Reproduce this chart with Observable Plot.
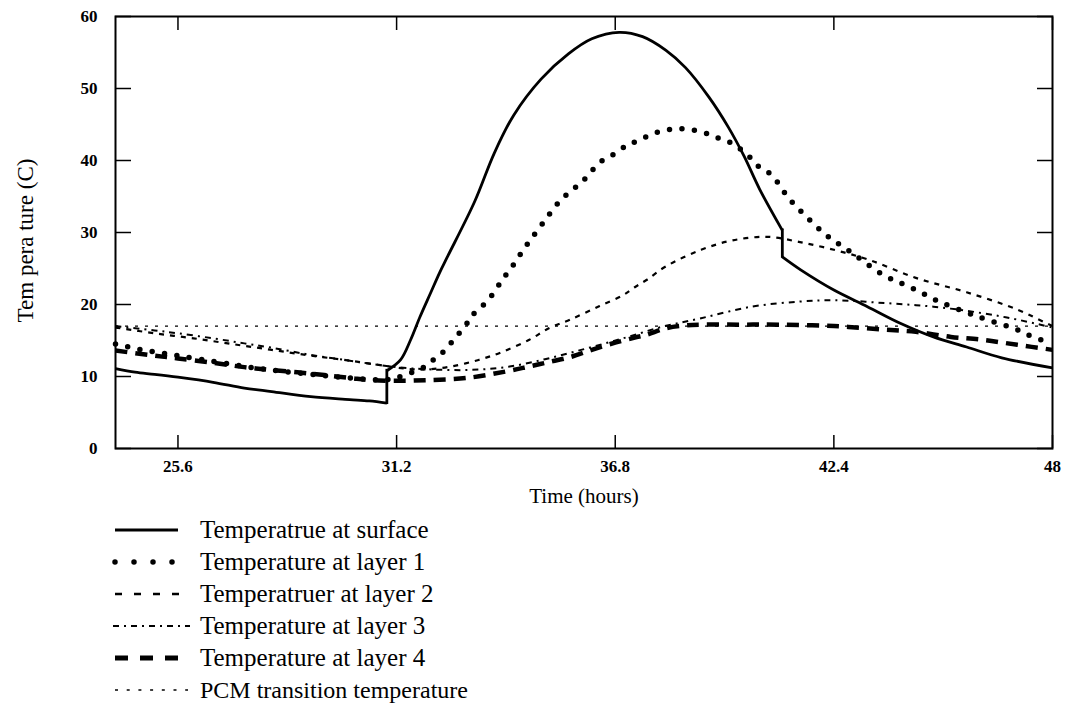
<!DOCTYPE html>
<html>
<head>
<meta charset="utf-8">
<script src="https://cdn.jsdelivr.net/npm/d3@7"></script>
<script src="https://cdn.jsdelivr.net/npm/@observablehq/plot@0.6"></script>
<style>
  html, body { margin: 0; padding: 0; background: #fff; }
  body { width: 1067px; height: 703px; overflow: hidden; font-family: "Liberation Serif", "DejaVu Serif", serif; }
  #legend { margin: 0; padding: 0; }
  .row { display: flex; align-items: center; height: 32px; }
  .row svg { flex: none; }
  .row span { font-size: 25px; color: #000; white-space: nowrap; line-height: 32px; }
</style>
</head>
<body>
<div id="chart"></div>
<div id="legend"></div>
<script>
// ---- axis ticks ----
const xTicks = [25.6, 31.2, 36.8, 42.4, 48];
const yTicks = [0, 10, 20, 30, 40, 50, 60];
const xDomain = [24, 48];
const yDomain = [0, 60];

// ---- series (hours, temperature °C) ----
// (a repeated time marks a vertical jump in the surface curve)
const surfaceTime = [24.0, 24.5, 25.0, 25.6, 26.5, 27.3, 28.0, 29.0, 30.0, 30.5, 30.95, 30.95, 31.3, 31.56, 31.8, 32.07, 32.3, 32.5, 33.2, 33.7, 34.2, 34.9, 35.6, 36.2, 36.9, 37.5, 38.1, 38.6, 39.2, 39.7, 40.1, 40.5, 41.08, 41.08, 41.55, 42.4, 43.26, 44.1, 44.95, 45.8, 46.7, 48.0];
const surfaceTemp = [11.1, 10.6, 10.3, 9.9, 9.2, 8.4, 7.9, 7.2, 6.8, 6.6, 6.3, 10.8, 12.3, 15.1, 18.3, 21.6, 24.4, 26.6, 34.3, 41.0, 46.3, 51.3, 54.8, 56.9, 57.8, 57.2, 55.3, 52.9, 48.8, 44.6, 40.6, 36.0, 30.3, 26.6, 24.8, 22.0, 19.7, 17.4, 15.5, 14.1, 12.6, 11.2];

const layer1Time = [24.0, 24.5, 25.0, 25.6, 26.5, 27.3, 28.0, 29.0, 30.0, 31.0, 31.4, 31.9, 32.2, 32.45, 32.7, 32.96, 33.1, 33.4, 33.7, 33.9, 34.1, 34.5, 35.0, 35.4, 35.7, 36.0, 36.4, 36.8, 37.1, 37.4, 37.8, 38.2, 38.6, 39.06, 39.4, 39.75, 40.2, 40.44, 40.8, 41.24, 41.75, 42.26, 42.75, 43.67, 44.4, 45.1, 46.1, 47.1, 47.5, 48.0];
const layer1Temp = [14.5, 13.9, 13.4, 12.9, 12.1, 11.4, 10.9, 10.3, 9.8, 9.6, 10.2, 11.3, 12.6, 13.7, 15.4, 17.0, 18.3, 19.8, 21.7, 23.4, 24.8, 28.0, 31.7, 34.5, 35.9, 37.3, 39.7, 41.0, 42.1, 42.8, 43.8, 44.3, 44.4, 43.9, 43.2, 42.5, 40.7, 39.3, 38.0, 34.8, 31.9, 29.4, 27.6, 24.1, 22.3, 20.4, 18.3, 16.5, 15.5, 14.6];

const layer2Time = [24.0, 25.0, 26.0, 27.0, 28.0, 29.0, 30.0, 31.0, 31.6, 32.0, 32.6, 33.3, 33.9, 34.6, 35.1, 35.65, 36.4, 37.0, 37.3, 37.6, 38.1, 39.0, 39.8, 40.7, 41.5, 42.4, 43.3, 44.5, 45.8, 47.1, 47.8, 48.0];
const layer2Temp = [16.8, 16.0, 15.3, 14.5, 13.7, 12.9, 12.2, 11.4, 11.0, 11.0, 11.4, 12.3, 13.4, 15.1, 16.7, 17.9, 19.8, 21.3, 22.4, 23.4, 25.3, 27.6, 28.9, 29.4, 28.7, 27.6, 26.2, 23.7, 21.7, 19.3, 17.5, 17.0];

const layer3Time = [24.0, 25.0, 25.6, 26.5, 27.3, 28.0, 29.0, 30.0, 30.5, 31.2, 32.0, 33.0, 34.0, 35.0, 36.0, 37.0, 38.0, 39.0, 40.3, 41.5, 42.4, 43.7, 44.95, 46.2, 47.1, 48.0];
const layer3Temp = [17.0, 16.4, 16.0, 15.3, 14.6, 14.0, 13.0, 12.2, 11.8, 11.3, 11.0, 10.9, 11.3, 12.4, 13.8, 15.3, 16.9, 18.1, 19.7, 20.4, 20.6, 20.2, 19.7, 18.8, 17.9, 16.8];

const layer4Time = [24.0, 25.0, 25.6, 26.5, 27.3, 28.0, 29.0, 30.0, 30.5, 31.2, 32.0, 33.0, 34.0, 34.6, 35.1, 35.65, 36.2, 36.8, 37.3, 37.6, 38.1, 38.6, 39.0, 40.0, 41.0, 42.4, 43.7, 44.5, 45.4, 46.2, 47.1, 48.0];
const layer4Temp = [13.6, 12.9, 12.5, 11.9, 11.3, 10.9, 10.4, 9.8, 9.5, 9.4, 9.5, 9.8, 10.7, 11.4, 12.0, 12.7, 13.7, 14.7, 15.4, 15.8, 16.7, 17.1, 17.2, 17.2, 17.2, 17.0, 16.5, 16.2, 15.5, 15.1, 14.4, 13.7];

const pcmTemp = [17];

const seriesNames = [
  "Temperatrue at surface",
  "Temperature at layer 1",
  "Temperatruer at layer 2",
  "Temperature at layer 3",
  "Temperature at layer 4",
  "PCM transition temperature"
];
const xLabel = "Time (hours)";
const yLabel = "Tem pera ture (C)";

// ---- styles ----
const chartStyles = [
  {strokeWidth: 2.8, strokeDasharray: null, strokeLinecap: "butt"},
  {strokeWidth: 5.5, strokeDasharray: "0 12.5", strokeLinecap: "round"},
  {strokeWidth: 2.2, strokeDasharray: "5 6", strokeLinecap: "butt"},
  {strokeWidth: 2, strokeDasharray: "6 5 2 5", strokeLinecap: "butt"},
  {strokeWidth: 4.5, strokeDasharray: "12 8", strokeLinecap: "butt"},
  {strokeWidth: 1.2, strokeDasharray: "3 7", strokeLinecap: "butt"}
];
const legendStyles = [
  {x1: 115, x2: 178, w: 3, dash: null, cap: "butt"},
  {x1: 115, x2: 172.5, w: 5.5, dash: "0 19", cap: "round"},
  {x1: 115, x2: 179, w: 2.5, dash: "7 12", cap: "butt"},
  {x1: 113, x2: 190, w: 2, dash: "6 5 2 5", cap: "butt"},
  {x1: 115, x2: 178, w: 5, dash: "13 12", cap: "butt"},
  {x1: 115, x2: 188, w: 1.3, dash: "3 8.7", cap: "butt"}
];

// split a series into smooth pieces at repeated times; the repeats become vertical jumps
function pieces(time, temp) {
  let seg = 0;
  const pts = time.map((t, i) => {
    if (i > 0 && t === time[i - 1]) seg++;
    return {t, v: temp[i], seg};
  });
  const jumps = [];
  for (let i = 1; i < time.length; i++) {
    if (time[i] === time[i - 1]) jumps.push({t: time[i], y1: temp[i - 1], y2: temp[i]});
  }
  return {pts, jumps};
}

const series = [
  [surfaceTime, surfaceTemp],
  [layer1Time, layer1Temp],
  [layer2Time, layer2Temp],
  [layer3Time, layer3Temp],
  [layer4Time, layer4Temp]
].map(([t, v], i) => ({name: seriesNames[i], ...pieces(t, v), style: chartStyles[i]}));

const lineMarks = series.slice().reverse().flatMap(s => [
  Plot.line(s.pts, {
    x: "t", y: "v", z: "seg", stroke: "black",
    curve: "catmull-rom",
    strokeWidth: s.style.strokeWidth,
    strokeDasharray: s.style.strokeDasharray,
    strokeLinecap: s.style.strokeLinecap,
    strokeLinejoin: "round"
  }),
  Plot.ruleX(s.jumps, {
    x: "t", y1: "y1", y2: "y2", stroke: "black",
    strokeWidth: s.style.strokeWidth,
    strokeDasharray: s.style.strokeDasharray,
    strokeLinecap: "square"
  })
]);

const chart = Plot.plot({
  width: 1067,
  height: 514,
  marginLeft: 115,
  marginRight: 15,
  marginTop: 16,
  marginBottom: 66,
  style: {fontFamily: "'Liberation Serif', 'DejaVu Serif', serif", color: "black", background: "white"},
  x: {domain: xDomain},
  y: {domain: yDomain},
  marks: [
    Plot.ruleY(pcmTemp, {stroke: "black", strokeWidth: chartStyles[5].strokeWidth, strokeDasharray: chartStyles[5].strokeDasharray}),
    ...lineMarks,
    Plot.frame({stroke: "black", strokeWidth: 2}),
    Plot.axisX(xTicks, {anchor: "bottom", tickSize: -13, tickPadding: 24, tickFormat: d => String(d), fontSize: 17, fontWeight: "bold", label: null, strokeWidth: 1.5}),
    Plot.axisX(xTicks, {anchor: "top", tickSize: -13, tickFormat: () => "", label: null, strokeWidth: 1.5}),
    Plot.axisY(yTicks, {anchor: "left", tickSize: -16, tickPadding: 34, tickFormat: d => String(d), fontSize: 17, fontWeight: "bold", label: null, strokeWidth: 1.5}),
    Plot.axisY(yTicks, {anchor: "right", tickSize: -16, tickFormat: () => "", label: null, strokeWidth: 1.5}),
    Plot.text([xLabel], {text: d => d, frameAnchor: "bottom", textAnchor: "middle", lineAnchor: "middle", dy: 48, fontSize: 21, fill: "black"}),
    Plot.text([yLabel], {text: d => d, frameAnchor: "left", textAnchor: "middle", lineAnchor: "middle", dx: -90, dy: 8, rotate: -90, fontSize: 23, fill: "black"})
  ]
});
document.getElementById("chart").appendChild(chart);

// ---- legend ----
const legend = document.getElementById("legend");
seriesNames.forEach((name, i) => {
  const st = legendStyles[i];
  const row = document.createElement("div");
  row.className = "row";
  const svg = d3.create("svg").attr("width", 200).attr("height", 32);
  svg.append("line")
    .attr("x1", st.x1).attr("x2", st.x2).attr("y1", 16).attr("y2", 16)
    .attr("stroke", "black").attr("stroke-width", st.w)
    .attr("stroke-dasharray", st.dash).attr("stroke-linecap", st.cap);
  row.appendChild(svg.node());
  const span = document.createElement("span");
  span.textContent = name;
  if (i === 5) span.style.fontSize = "24px";
  row.appendChild(span);
  legend.appendChild(row);
});
</script>
</body>
</html>
